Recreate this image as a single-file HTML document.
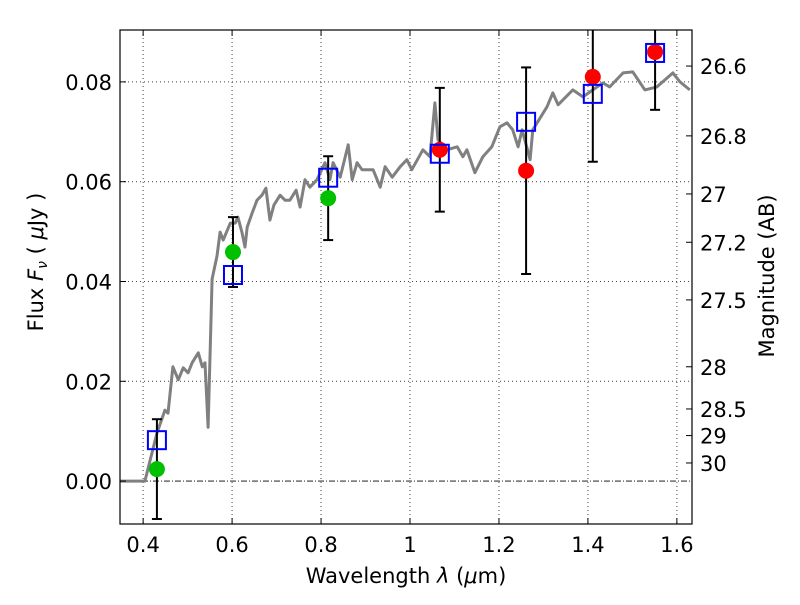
<!DOCTYPE html>
<html><head><meta charset="utf-8"><style>
html,body{margin:0;padding:0;background:#fff;}
svg text{font-family:"DejaVu Sans","Liberation Sans",sans-serif;}
</style></head><body>
<svg id="chart" width="800" height="600" viewBox="0 0 800 600" xmlns="http://www.w3.org/2000/svg"></svg>
<script>
const specLam=[0.348,0.400,0.404,0.431,0.449,0.456,0.467,0.479,0.490,0.501,0.510,0.524,0.533,0.539,0.546,0.555,0.566,0.573,0.580,0.596,0.607,0.613,0.622,0.629,0.634,0.645,0.656,0.667,0.676,0.685,0.694,0.708,0.719,0.730,0.744,0.753,0.764,0.775,0.791,0.809,0.820,0.827,0.843,0.861,0.870,0.881,0.892,0.903,0.917,0.933,0.944,0.960,0.978,0.993,1.004,1.029,1.045,1.056,1.063,1.083,1.106,1.119,1.128,1.146,1.164,1.184,1.202,1.218,1.231,1.243,1.252,1.270,1.276,1.308,1.321,1.333,1.366,1.389,1.411,1.434,1.449,1.479,1.501,1.528,1.555,1.591,1.607,1.629];
const specFlux=[0,0,0,0.0096,0.0142,0.0136,0.0229,0.0203,0.0227,0.0217,0.0237,0.0257,0.0229,0.0237,0.0108,0.0405,0.0451,0.0499,0.0483,0.0517,0.0517,0.0529,0.0499,0.0469,0.0509,0.0537,0.0563,0.0573,0.0587,0.0523,0.0553,0.0573,0.0563,0.0563,0.0583,0.0549,0.0604,0.0589,0.0604,0.0638,0.0604,0.0638,0.0609,0.0674,0.0604,0.0638,0.0624,0.0624,0.0624,0.0589,0.0630,0.0609,0.0630,0.0644,0.0624,0.0664,0.0650,0.0758,0.0684,0.0664,0.0670,0.0650,0.0664,0.0618,0.0650,0.0670,0.0710,0.0718,0.0704,0.0670,0.0704,0.0644,0.0704,0.0750,0.0778,0.0754,0.0784,0.0770,0.0784,0.0798,0.0790,0.0818,0.0820,0.0784,0.0790,0.0818,0.0800,0.0784];
const ptLam=[0.431,0.602,0.816,1.067,1.261,1.411,1.551];
const ptFlux=[0.0024,0.0459,0.0567,0.0664,0.0622,0.0810,0.0860];
const ptErr=[0.0100,0.0070,0.0084,0.0124,0.0207,0.0170,0.0116];
const ptColor=['#00c000','#00c000','#00c000','red','red','red','red'];
const modelFlux=[0.0082,0.0413,0.0608,0.0656,0.0720,0.0776,0.0858];
const xTicks=[0.4,0.6,0.8,1.0,1.2,1.4,1.6];
const xTickLabels=['0.4','0.6','0.8','1','1.2','1.4','1.6'];
const yTicks=[0,0.02,0.04,0.06,0.08];
const yTickLabels=['0.00','0.02','0.04','0.06','0.08'];
const magTicks=[26.6,26.8,27,27.2,27.5,28,28.5,29,30];
const magTickLabels=['26.6','26.8','27','27.2','27.5','28','28.5','29','30'];

const L=120,R=692,T=30,B=524;
const xMin=0.348,xMax=1.634,yMin=-0.0086,yMax=0.0904;
const sx=v=>L+(v-xMin)/(xMax-xMin)*(R-L);
const sy=v=>B-(v-yMin)/(yMax-yMin)*(B-T);
const svg=document.getElementById('chart');
const NS='http://www.w3.org/2000/svg';
function mk(tag,attrs,parent){const e=document.createElementNS(NS,tag);for(const k in attrs)e.setAttribute(k,attrs[k]);(parent||svg).appendChild(e);return e;}

const clip=mk('clipPath',{id:'pc'});mk('rect',{x:L,y:T,width:R-L,height:B-T},clip);

const grid=mk('g',{});


xTicks.forEach(t=>{mk('line',{x1:sx(t),x2:sx(t),y1:T,y2:B,stroke:'#444','stroke-width':1,'stroke-dasharray':'1,3'},grid);});
yTicks.forEach(t=>{if(t!==0)mk('line',{x1:L,x2:R,y1:sy(t),y2:sy(t),stroke:'#444','stroke-width':1,'stroke-dasharray':'1,3'},grid);});
const zl=mk('line',{x1:L,x2:R,y1:sy(0),y2:sy(0),stroke:'#000','stroke-width':0.8,'stroke-dasharray':'6,2,1,2'});



const pg=mk('g',{'clip-path':'url(#pc)'});
let d='';specLam.forEach((l,i)=>{d+=(i?'L':'M')+sx(l).toFixed(1)+','+sy(specFlux[i]).toFixed(1);});
const sp=mk('path',{d:d,fill:'none',stroke:'#808080','stroke-width':3,'stroke-linejoin':'round'},pg);



ptLam.forEach((l,i)=>{
  const g=mk('g',{},pg);
  
  
  const x=sx(l),y1=sy(ptFlux[i]+ptErr[i]),y2=sy(ptFlux[i]-ptErr[i]);
  mk('line',{x1:x,x2:x,y1:y1,y2:y2,stroke:'#000','stroke-width':2},g);
  mk('line',{x1:x-5,x2:x+5,y1:y1,y2:y1,stroke:'#000','stroke-width':2},g);
  mk('line',{x1:x-5,x2:x+5,y1:y2,y2:y2,stroke:'#000','stroke-width':2},g);
});
ptLam.forEach((l,i)=>{
  const c=mk('circle',{cx:sx(l),cy:sy(ptFlux[i]),r:8,fill:ptColor[i]},pg);
  
  
});
ptLam.forEach((l,i)=>{
  const s=mk('rect',{x:sx(l)-9,y:sy(modelFlux[i])-9,width:18,height:18,fill:'none',stroke:'#0000ff','stroke-width':2},pg);
  
  
});

const fr=mk('rect',{x:L,y:T,width:R-L,height:B-T,fill:'none',stroke:'#000','stroke-width':1.2});



xTicks.forEach((t,i)=>{
  const x=sx(t);
  mk('line',{x1:x,x2:x,y1:B,y2:B-6,stroke:'#000'});
  mk('line',{x1:x,x2:x,y1:T,y2:T+6,stroke:'#000'});
  const tx=mk('text',{x:x,y:B+28,'font-size':21,'text-anchor':'middle'});
  tx.textContent=xTickLabels[i];
  
  
});
yTicks.forEach((t,i)=>{
  const y=sy(t);
  mk('line',{x1:L,x2:L+6,y1:y,y2:y,stroke:'#000'});
  const tx=mk('text',{x:L-8,y:y+8,'font-size':21,'text-anchor':'end'});
  tx.textContent=yTickLabels[i];
  
  
});
magTicks.forEach((m,i)=>{
  const f=Math.pow(10,-(m-23.9)/2.5);const y=sy(f);
  mk('line',{x1:R,x2:R-6,y1:y,y2:y,stroke:'#000'});
  const tx=mk('text',{x:R+8,y:y+8,'font-size':21,'text-anchor':'start'});
  tx.textContent=magTickLabels[i];
  
  
});
</script>
<svg style="position:absolute;left:0;top:0" width="800" height="600">
<text x="406" y="583" font-size="21" text-anchor="middle">Wavelength  <tspan font-style="italic">λ</tspan> (<tspan font-style="italic">μ</tspan>m)</text>
<text transform="translate(43,262) rotate(-90)" font-size="21" text-anchor="middle">Flux  <tspan font-style="italic">F<tspan font-size="14" dy="4">ν</tspan></tspan><tspan dy="-4">  (  </tspan><tspan font-style="italic">μ</tspan>Jy )</text>
<text transform="translate(774,276) rotate(-90)" font-size="21" text-anchor="middle">Magnitude (AB)</text>
</svg>
</body></html>
